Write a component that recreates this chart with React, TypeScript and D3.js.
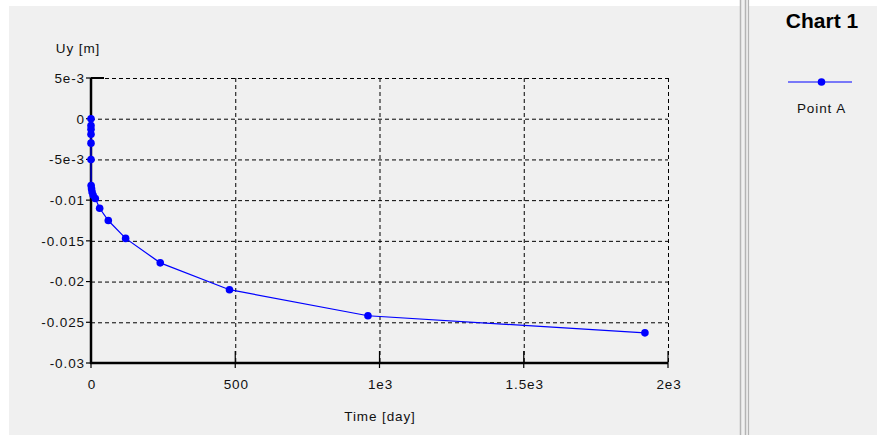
import React from "react";
import * as d3 from "d3";

const timeDays = [0, 0, 0, 0, 0, 0, 0.47, 1.9, 3.75, 7.5, 15, 30, 60, 120, 240, 480, 960, 1920];
const uyValues = [0, -0.00083, -0.0013, -0.0019, -0.003, -0.005, -0.0082, -0.0086, -0.009, -0.0094, -0.0098, -0.011, -0.0125, -0.0147, -0.0177, -0.021, -0.0242, -0.0263];
const xTicks = [0, 500, 1000, 1500, 2000];
const xTickLabels = ["0", "500", "1e3", "1.5e3", "2e3"];
const yTicks = [0.005, 0, -0.005, -0.01, -0.015, -0.02, -0.025, -0.03];
const yTickLabels = ["5e-3", "0", "-5e-3", "-0.01", "-0.015", "-0.02", "-0.025", "-0.03"];
const seriesName = "Point A";
const chartTitle = "Chart 1";

const W = 877;
const H = 435;
const FONT = "'Liberation Sans', Arial, sans-serif";
const FS = 13.5;
const LS = 0.9;

export default function App() {
  const x = d3.scaleLinear().domain([0, 2000]).range([91, 668]);
  const y = d3.scaleLinear().domain([-0.03, 0.005]).range([363, 78]);
  const pts = timeDays.map((t, i) => [t, uyValues[i]] as [number, number]);
  const line = d3.line<[number, number]>().x((d) => x(d[0])).y((d) => y(d[1]));
  const [x0, x1] = x.range();
  const [yb, yt] = y.range();

  return (
    <div style={{ position: "fixed", left: 0, top: 0, width: W, height: H }}>
      <svg width={W} height={H} style={{ display: "block" }} fontFamily={FONT}>
        <rect x={0} y={0} width={W} height={H} fill="#ffffff" />
        <rect x={9} y={6} width={W - 9} height={H - 6} fill="#f0f0f0" />
        {/* divider */}
        <rect x={740} y={0} width={9} height={H} fill="#f0f0f0" />
        <line x1={740.5} x2={740.5} y1={0} y2={H} stroke="#b4b4b4" strokeWidth={1.5} />
        <line x1={745.5} x2={745.5} y1={0} y2={H} stroke="#b4b4b4" strokeWidth={1.5} />
        <line x1={748.5} x2={748.5} y1={0} y2={H} stroke="#b4b4b4" strokeWidth={1.2} />

        {/* grid */}
        {yTicks.map((v, i) =>
          v === -0.03 ? null : (
            <line key={"gy" + i} x1={x0} x2={x1} y1={y(v) + 0.5} y2={y(v) + 0.5} stroke="#000" strokeWidth={1} strokeDasharray="4,3" />
          )
        )}
        {xTicks.map((v, i) =>
          v === 0 ? null : (
            <line key={"gx" + i} x1={x(v) + 0.5} x2={x(v) + 0.5} y1={yt} y2={yb} stroke="#000" strokeWidth={1} strokeDasharray="4,3" />
          )
        )}

        {/* axes */}
        <line x1={x0} x2={x0} y1={yt} y2={yb + 1} stroke="#000" strokeWidth={2.5} />
        <line x1={x0 - 1} x2={x1} y1={yb} y2={yb} stroke="#000" strokeWidth={2.5} />
        <line x1={x0} x2={x0 + 13} y1={yt} y2={yt} stroke="#000" strokeWidth={2} />
        {yTicks.map((v, i) => (
          <g key={"ty" + i}>
            <line x1={x0 - 5} x2={x0} y1={y(v)} y2={y(v)} stroke="#000" strokeWidth={1.2} />
            <text x={x0 - 6} y={y(v)} dy="0.36em" textAnchor="end" fontSize={FS} letterSpacing={LS} fill="#111">
              {yTickLabels[i]}
            </text>
          </g>
        ))}
        {xTicks.map((v, i) => (
          <g key={"tx" + i}>
            <line x1={x(v)} x2={x(v)} y1={yb - 12} y2={yb + 5} stroke="#000" strokeWidth={1.2} />
            <text x={x(v) + 1} y={yb + 26} textAnchor="middle" fontSize={FS} letterSpacing={LS} fill="#111">
              {xTickLabels[i]}
            </text>
          </g>
        ))}
        <text x={78} y={53} textAnchor="middle" fontSize={FS} letterSpacing={LS} fill="#111">Uy [m]</text>
        <text x={380} y={421} textAnchor="middle" fontSize={FS} letterSpacing={LS} fill="#111">Time [day]</text>

        {/* series */}
        <path d={line(pts) || ""} fill="none" stroke="#0000ff" strokeWidth={1.2} />
        {pts.map((p, i) => (
          <circle key={"p" + i} cx={x(p[0])} cy={y(p[1])} r={3.8} fill="#0000ff" />
        ))}

        {/* legend / title */}
        <text x={822} y={28} textAnchor="middle" fontSize={21} fontWeight="bold" fill="#000">{chartTitle}</text>
        <line x1={788} x2={852} y1={82} y2={82} stroke="#0000ff" strokeWidth={1.2} />
        <circle cx={821.5} cy={82} r={3.8} fill="#0000ff" />
        <text x={821.5} y={113} textAnchor="middle" fontSize={FS} letterSpacing={LS} fill="#111">{seriesName}</text>
      </svg>
    </div>
  );
}
